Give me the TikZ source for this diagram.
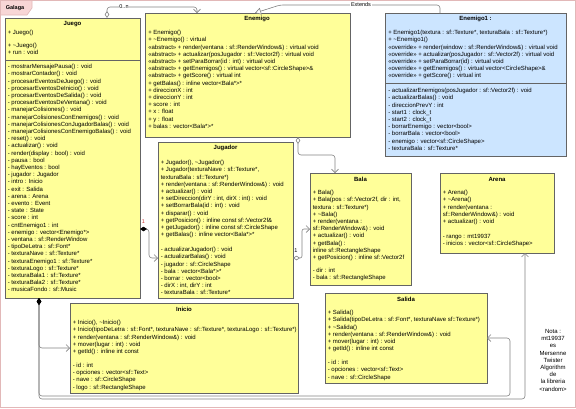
\documentclass[tikz,border=0pt]{standalone}
\usepackage{fontspec}
\setmainfont{Liberation Sans}
\usetikzlibrary{arrows.meta,calc}

\definecolor{umlyellow}{RGB}{255,255,153}
\definecolor{umlblue}{RGB}{204,229,255}
\definecolor{boxline}{RGB}{100,100,100}
\definecolor{linkgray}{RGB}{130,130,130}
\definecolor{pkgline}{RGB}{226,184,184}
\definecolor{pkgfill}{RGB}{248,214,214}
\definecolor{multred}{RGB}{200,50,50}

\tikzset{every picture/.style={line width=0.6pt}}
\tikzset{
  classY/.style={draw=boxline, fill=umlyellow, anchor=north west, inner sep=0pt, outer sep=0pt},
  classB/.style={classY, fill=umlblue},
  ctitle/.style={font=\fontsize{6}{7.2}\selectfont\bfseries, inner sep=0pt},
  cmembers/.style={font=\fontsize{6}{7.2}\selectfont, align=left, anchor=north west, inner sep=0pt, execute at begin node=\strut},
  link/.style={draw=linkgray, line width=0.6pt, rounded corners=3pt},
  linklabel/.style={font=\fontsize{5.5}{6}\selectfont, fill=white, inner sep=0.8pt},
  composition/.style={{Diamond[color=black,length=7pt,width=4.5pt]}-{Straight Barb[length=3.5pt,width=7pt]}},
  aggregation/.style={{Diamond[open,fill=white,length=7pt,width=4.5pt]}-{Straight Barb[length=3.5pt,width=7pt]}},
  generalization/.style={-{Triangle[open,fill=white,length=6pt,width=7pt]}}
}

\begin{document}
\begin{tikzpicture}[x=1pt,y=1pt,yscale=-1,xscale=1]
	\useasboundingbox (0,0) rectangle (576,408);

	%Shape: Package frame [Galaga]
	\draw [pkgline] (0.5,0.5) rectangle (575.5,407.5);
	\draw [pkgline, fill=pkgfill] (0.5,0.5) -- (32,0.5) -- (32,8) -- (27,15) -- (0.5,15) -- cycle;
	% Text Node
	\node [font=\fontsize{5.5}{6}\selectfont\bfseries, inner sep=0pt] (pkgName) at (15,8.5) {Galaga};

	%Shape: Rectangle [juego]
	\node [classY, minimum width=135, minimum height=280] (juego) at (5,18) {};
	\draw [boxline] (5,60) -- (140,60);
	% Text Node
	\node [ctitle] (juegoTitle) at (72.5,24) {Juego};
	% Text Node
	\node [cmembers] (juegoPub) at (7.5,30) {+ Juego()\\[5.8pt]+ \textasciitilde Juego()\\+ run : void};
	% Text Node
	\node [cmembers] (juegoPriv) at (7.5,64) {- mostrarMensajePausa() : void\\- mostrarContador() : void\\- procesarEventosDeJuego() : void\\- procesarEventosDeInicio() : void\\- procesarEventosDeSalida() : void\\- procesarEventosDeVentana() : void\\- manejarColisiones() : void\\- manejarColisionesConEnemigos() : void\\- manejarColisionesConJugadorBalas() : void\\- manejarColisionesConEnemigoBalas() : void\\- reset() : void\\- actualizar() : void\\- render(display : bool) : void\\- pausa : bool\\- hayEventos : bool\\- jugador : Jugador\\- intro : Inicio\\- exit : Salida\\- arena : Arena\\- evento : Event\\- state : State\\- score : int\\- cntEnemigo1 : int\\- enemigo : vector<Enemigo*>\\- ventana : sf::RenderWindow\\- tipoDeLetra : sf::Font*\\- texturaNave : sf::Texture*\\- texturaEnemigo1 : sf::Texture*\\- texturaLogo : sf::Texture*\\- texturaBala1 : sf::Texture*\\- texturaBala2 : sf::Texture*\\- musicaFondo : sf::Music};

	%Shape: Rectangle [enemigo]
	\node [classY, minimum width=205, minimum height=124] (enemigo) at (145,13) {};
	% Text Node
	\node [ctitle] (enemigoTitle) at (257,19) {Enemigo};
	% Text Node
	\node [cmembers] (enemigoMem) at (148,30) {+ Enemigo()\\+ \textasciitilde Enemigo() : virtual\\«abstract» + render(ventana : sf::RenderWindow\&) : virtual void\\«abstract» + actualizar(posJugador : sf::Vector2f) : virtual void\\«abstract» + setParaBorrar(id : int) : virtual void\\«abstract» + getEnemigos() : virtual vector<sf::CircleShape>\&\\«abstract» + getScore() : virtual int\\+ getBalas() : inline vector<Bala*>*\\+ direccionX : int\\+ direccionY : int\\+ score : int\\+ x : float\\+ y : float\\+ balas : vector<Bala*>*};

	%Shape: Rectangle [enemigo1]
	\node [classB, minimum width=181, minimum height=143] (enemigo1) at (385,13) {};
	\draw [boxline] (385,83) -- (566,83);
	% Text Node
	\node [ctitle] (enemigo1Title) at (475.5,19) {Enemigo1 :};
	% Text Node
	\node [cmembers] (enemigo1Pub) at (388,30) {+ Enemigo1(textura : sf::Texture*, texturaBala : sf::Texture*)\\+ \textasciitilde Enemigo1()\\«override» + render(window : sf::RenderWindow\&) : virtual void\\«override» + actualizar(posJugador : sf::Vector2f) : virtual void\\«override» + setParaBorrar(id) : virtual void\\«override» + getEnemigos() : virtual vector<CircleShape>\&\\«override» + getScore() : virtual int};
	% Text Node
	\node [cmembers] (enemigo1Priv) at (388,88) {- actualizarEnemigos(posJugador : sf::Vector2f) : void\\- actualizarBalas() : void\\- direccionPrevY : int\\- start1 : clock\_t\\- start2 : clock\_t\\- borrarEnemigo : vector<bool>\\- borrarBala : vector<bool>\\- enemigo : vector<sf::CircleShape>\\- texturaBala : sf::Texture*};

	%Shape: Rectangle [jugador]
	\node [classY, minimum width=135, minimum height=156] (jugador) at (158,142) {};
	% Text Node
	\node [ctitle] (jugadorTitle) at (225.5,148) {Jugador};
	% Text Node
	\node [cmembers] (jugadorMem) at (160.5,160) {+ Jugador(), \textasciitilde Jugador()\\+ Jugador(texturaNave : sf::Texture*,\\texturaBala : sf::Texture*)\\+ render(ventana : sf::RenderWindow\&) : void\\+ actualizar() : void\\+ setDireccion(dirY : int, dirX : int) : void\\+ setBorrarBala(id : int) : void\\+ disparar() : void\\+ getPosicion() : inline const sf::Vector2f\&\\+ getJugador() : inline const sf::CircleShape\\+ getBalas() : inline vector<Bala*>*\\[7.8pt]- actualizarJugador() : void\\- actualizarBalas() : void\\- jugador : sf::CircleShape\\- bala : vector<Bala*>*\\- borrar : vector<bool>\\- dirX : int, dirY : int\\- texturaBala : sf::Texture*};

	%Shape: Rectangle [bala]
	\node [classY, minimum width=101, minimum height=112] (bala) at (310,173) {};
	% Text Node
	\node [ctitle] (balaTitle) at (360.5,179) {Bala};
	% Text Node
	\node [cmembers] (balaMem) at (312.5,190) {+ Bala()\\+ Bala(pos : sf::Vector2f, dir : int,\\textura : sf::Texture*)\\+ \textasciitilde Bala()\\+ render(ventana :\\sf::RenderWindow\&) : void\\+ actualizar() : void\\+ getBala() :\\inline sf::RectangleShape\\+ getPosicion() : inline sf::Vector2f\\[5.8pt]- dir : int\\- bala : sf::RectangleShape};

	%Shape: Rectangle [arena]
	\node [classY, minimum width=114, minimum height=80] (arena) at (440,173) {};
	% Text Node
	\node [ctitle] (arenaTitle) at (497,179) {Arena};
	% Text Node
	\node [cmembers] (arenaMem) at (442.5,190) {+ Arena()\\+ \textasciitilde Arena()\\+ render(ventana :\\sf::RenderWindow\&) : void\\+ actualizar() : void\\[7.8pt]- rango : mt19937\\- inicios : vector<sf::CircleShape>};

	%Shape: Rectangle [inicio]
	\node [classY, minimum width=228, minimum height=90] (inicio) at (70,303) {};
	% Text Node
	\node [ctitle] (inicioTitle) at (184,309) {Inicio};
	% Text Node
	\node [cmembers] (inicioMem) at (72.5,320) {+ Inicio(), \textasciitilde Inicio()\\+ Inicio(tipoDeLetra : sf::Font*, texturaNave : sf::Texture*, texturaLogo : sf::Texture*)\\+ render(ventana : sf::RenderWindow\&) : void\\+ mover(lugar : int) : void\\+ getId() : inline int const\\[6.8pt]- id : int\\- opciones : vector<sf::Text>\\- nave : sf::CircleShape\\- logo : sf::RectangleShape};

	%Shape: Rectangle [salida]
	\node [classY, minimum width=162, minimum height=90] (salida) at (325,293) {};
	% Text Node
	\node [ctitle] (salidaTitle) at (406,299) {Salida};
	% Text Node
	\node [cmembers] (salidaMem) at (327.5,310) {+ Salida()\\+ Salida(tipoDeLetra : sf::Font*, texturaNave sf::Texture*)\\+ \textasciitilde Salida()\\+ render(ventana : sf::RenderWindow\&) : void\\+ mover(lugar : int) : void\\+ getId() : inline int const\\[6.8pt]- id : int\\- opciones : vector<sf::Text>\\- nave : sf::CircleShape};

	% Text Node
	\node [font=\fontsize{6}{7.2}\selectfont, align=center, anchor=north, inner sep=0pt, execute at begin node=\strut] (nota) at (553,329) {Nota :\\mt19937\\es\\Mersenne\\Twister\\Algorithm\\de\\la libreria\\<random>};

	%Connector points
	\coordinate (jgAgg) at ($(juego.north west)+(102,0)$);
	\coordinate (enAgg) at ($(enemigo.north west)+(52,0)$);
	\coordinate (e1Gen) at ($(enemigo1.north west)+(55,0)$);
	\coordinate (enGen) at ($(enemigo.north west)+(110,0)$);
	\coordinate (jgComp) at ($(juego.north east)+(0,211)$);
	\coordinate (juComp) at ($(jugador.north west)+(0,116)$);
	\coordinate (jgBot) at ($(juego.south west)+(34,0)$);
	\coordinate (inComp) at ($(inicio.north west)+(0,45)$);
	\coordinate (arComp) at ($(arena.south west)+(85,0)$);
	\coordinate (juAgg) at ($(jugador.north east)+(0,116)$);
	\coordinate (enBala) at ($(enemigo.south west)+(153,0)$);
	\coordinate (baTop) at ($(bala.north west)+(25,0)$);

	%Straight Lines [juego - enemigo]
	\draw [link, aggregation] (jgAgg) -- (107,7) -- (197,7) -- (enAgg);
	\node [linklabel] (aggMult) at (124,6.5) {0..n};
	%Straight Lines [enemigo1 - enemigo]
	\draw [link, generalization] (e1Gen) -- (440,5) -- (280,5) -- (enGen);
	\node [linklabel] (extLabel) at (361,5) {Extends};
	%Straight Lines [juego - jugador]
	\draw [link, composition] (jgComp) -- (149,229) -- (149,258) -- (juComp);
	\node [font=\fontsize{5.5}{6}\selectfont, text=multred, inner sep=0pt] (compMult) at (143.5,222) {1};
	%Straight Lines [juego - inicio]
	\draw [link, composition] (jgBot) -- (39,348) -- (inComp);
	%Straight Lines [juego - salida]
	\draw [link, composition] (jgBot) -- (39,396) -- (510,396) -- (510,338) -- (salida.east);
	%Straight Lines [juego - arena]
	\draw [link, composition] (jgBot) -- (39,399) -- (525,399) -- (arComp);
	%Straight Lines [jugador - bala]
	\draw [link, aggregation, rounded corners=2pt] (juAgg) -- (302,258) -- (302,229) -- (bala.west);
	\node [font=\fontsize{5.5}{6}\selectfont, inner sep=0pt] (balaMult) at (296,251) {1};
	%Straight Lines [enemigo - bala]
	\draw [link, aggregation] (enBala) -- (298,155) -- (335,155) -- (baTop);

\end{tikzpicture}
\end{document}
